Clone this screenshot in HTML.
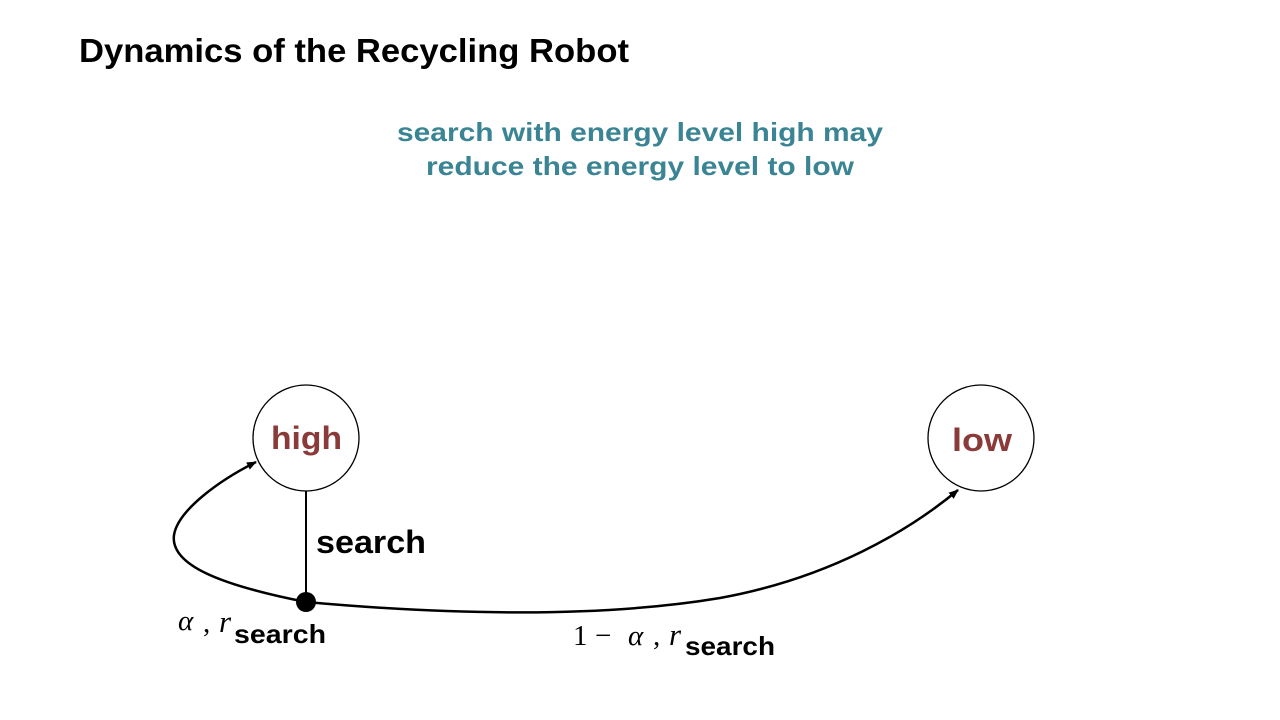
<!DOCTYPE html>
<html><head><style>
body{margin:0;width:1280px;height:720px;background:#fff;overflow:hidden;position:relative;font-family:"Liberation Sans",sans-serif}
</style></head><body>
<svg width="1280" height="720" style="position:absolute;left:0;top:0">
<defs><marker id="a" markerWidth="10" markerHeight="8" refX="9" refY="4" orient="auto" markerUnits="userSpaceOnUse"><path d="M0,0 L10,4 L0,8z" fill="#000"/></marker></defs>
<g font-family="Liberation Sans" font-weight="bold">
<text x="79" y="62" font-size="33" textLength="550" lengthAdjust="spacingAndGlyphs">Dynamics of the Recycling Robot</text>
<text x="397" y="141" font-size="26" fill="#3a8494" textLength="486" lengthAdjust="spacingAndGlyphs">search with energy level high may</text>
<text x="426" y="175" font-size="26" fill="#3a8494" textLength="428" lengthAdjust="spacingAndGlyphs">reduce the energy level to low</text>
</g>
<circle cx="306" cy="438" r="53" fill="#fff" stroke="#000" stroke-width="1.3"/>
<circle cx="981" cy="438" r="53" fill="#fff" stroke="#000" stroke-width="1.3"/>
<line x1="306" y1="491" x2="306" y2="602" stroke="#000" stroke-width="2"/>
<path d="M306,602 C220,585 170,565 174,535 C178,510 220,480 256,462" fill="none" stroke="#000" stroke-width="2.5" marker-end="url(#a)"/>
<path d="M306,602 C450,615 600,618 720,598 C830,578 910,530 958,490" fill="none" stroke="#000" stroke-width="2.5" marker-end="url(#a)"/>
<ellipse cx="306" cy="602" rx="10" ry="10" fill="#000"/>
<g font-family="Liberation Sans" font-weight="bold">
<text x="271" y="449" font-size="32" fill="#8b3a3a" textLength="71" lengthAdjust="spacingAndGlyphs">high</text>
<text x="952" y="451" font-size="32" fill="#8b3a3a" textLength="60" lengthAdjust="spacingAndGlyphs">low</text>
<text x="316" y="553" font-size="32" textLength="110" lengthAdjust="spacingAndGlyphs">search</text>
<text x="234" y="643" font-size="26" textLength="92" lengthAdjust="spacingAndGlyphs">search</text>
<text x="685" y="655" font-size="26" textLength="90" lengthAdjust="spacingAndGlyphs">search</text>
</g>
<g font-family="Liberation Serif" font-size="29">
<text x="178" y="630" font-style="italic">α</text>
<text x="203" y="632">,</text>
<text x="219" y="632" font-style="italic" font-size="31">r</text>
<text x="573" y="645">1</text>
<text x="595" y="645">−</text>
<text x="628" y="645" font-style="italic">α</text>
<text x="653" y="645">,</text>
<text x="669" y="645" font-style="italic" font-size="31">r</text>
</g>
</svg>
</body></html>
